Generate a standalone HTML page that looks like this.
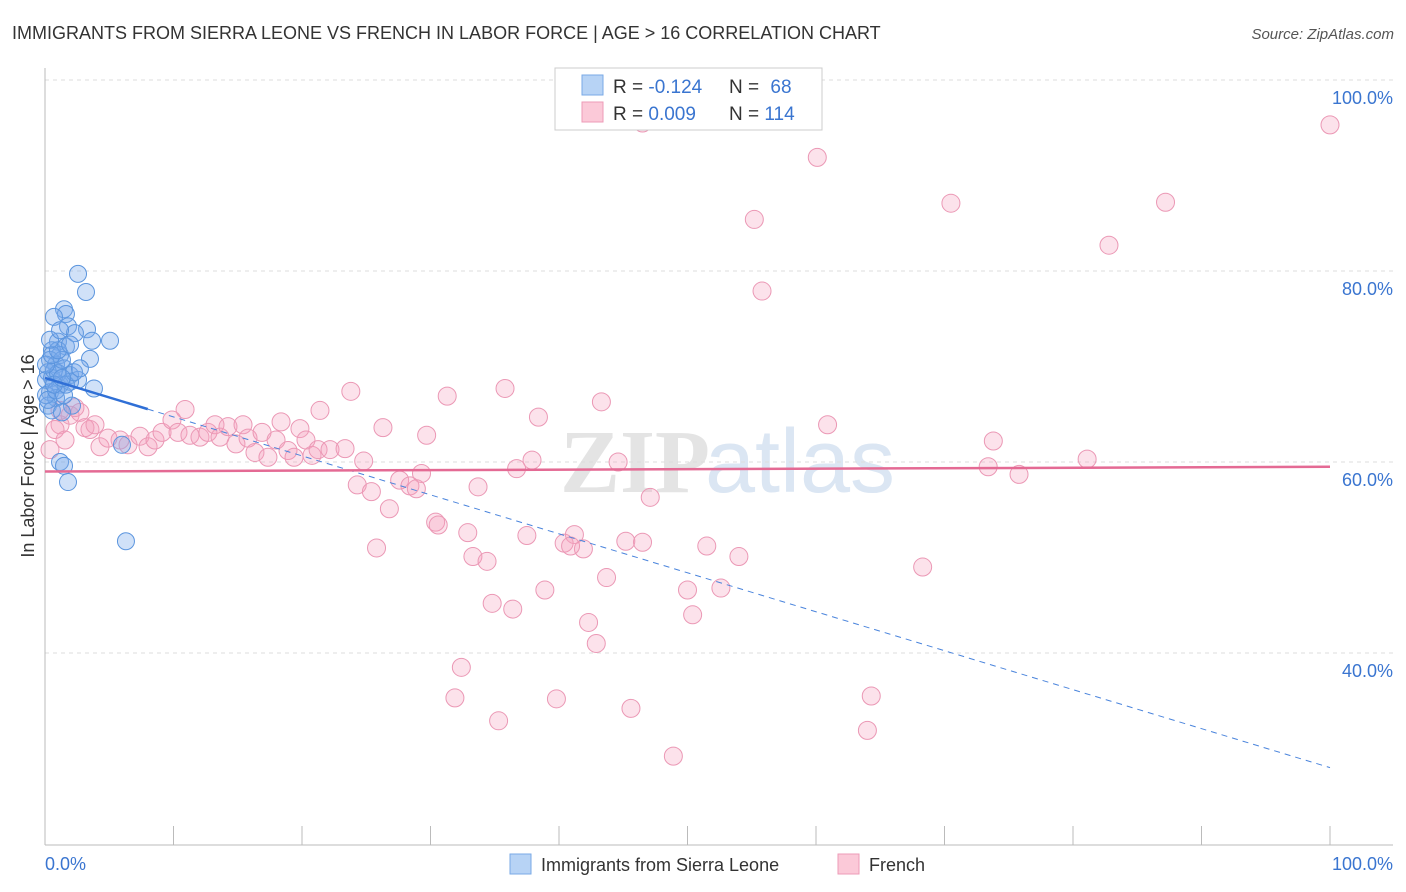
<!DOCTYPE html>
<html><head><meta charset="utf-8"><style>
body{margin:0;background:#fff;font-family:"Liberation Sans",sans-serif}
svg{display:block}
</style></head><body>
<svg id="chart" width="1406" height="892" xmlns="http://www.w3.org/2000/svg" font-family="Liberation Sans, sans-serif">
<text x="12" y="39" font-size="18" fill="#333">IMMIGRANTS FROM SIERRA LEONE VS FRENCH IN LABOR FORCE | AGE &gt; 16 CORRELATION CHART</text>
<text x="1394" y="39" font-size="15" fill="#555" font-style="italic" text-anchor="end">Source: ZipAtlas.com</text>
<g font-size="90" text-anchor="middle">
<text x="635" y="492" fill="#e4e4e4" font-family="Liberation Serif, serif" font-weight="bold">ZIP</text>
<text x="800" y="492" fill="#dbe6f3">atlas</text>
</g>
<g id="grid"></g>
<g id="axes"></g>
<g id="marks"></g>
<text transform="translate(34,456) rotate(-90)" font-size="18" fill="#333" text-anchor="middle">In Labor Force | Age &gt; 16</text>
<text x="45" y="870" font-size="18" fill="#3a75d0">0.0%</text>
<text x="1393" y="870" font-size="18" fill="#3a75d0" text-anchor="end">100.0%</text>
<g>
<rect x="555" y="68" width="267" height="62" fill="#fff" stroke="#ccc"/>
<rect x="582" y="75" width="21" height="20" fill="#b7d3f5" stroke="#7aaae6"/>
<rect x="582" y="102" width="21" height="20" fill="#fbc9d8" stroke="#ee9bb7"/>
<text x="613" y="93" font-size="19" fill="#333">R = <tspan fill="#3a75d0">-0.124</tspan></text>
<text x="729" y="93" font-size="19" fill="#333">N = <tspan fill="#3a75d0" dx="6">68</tspan></text>
<text x="613" y="120" font-size="19" fill="#333">R = <tspan fill="#3a75d0">0.009</tspan></text>
<text x="729" y="120" font-size="19" fill="#333">N = <tspan fill="#3a75d0">114</tspan></text>
</g>
<g>
<rect x="510" y="854" width="21" height="20" fill="#b7d3f5" stroke="#7aaae6"/>
<text x="541" y="871" font-size="18" fill="#333">Immigrants from Sierra Leone</text>
<rect x="838" y="854" width="21" height="20" fill="#fbc9d8" stroke="#ee9bb7"/>
<text x="869" y="871" font-size="18" fill="#333">French</text>
</g>
</svg>
<script>
const yTicks=[40,60,80,100];
const yTickLabels=["40.0%","60.0%","80.0%","100.0%"];
const xTicks=[0,10,20,30,40,50,60,70,80,90,100];
const blueX=[2.57,3.19,1.48,1.63,0.70,1.79,3.27,2.33,3.66,5.06,1.01,1.63,0.54,3.50,1.17,0.39,0.86,1.48,0.23,0.54,1.95,2.57,1.17,3.81,0.39,0.86,0.23,2.10,0.54,1.32,1.17,1.48,1.79,6.30,0.08,0.70,1.01,1.32,0.08,0.23,0.86,1.48,1.95,0.08,0.54,1.01,1.63,2.26,2.72,0.39,1.17,1.95,5.99,0.70,1.32];
const blueY=[79.7,77.8,76.0,75.5,75.2,74.2,73.9,73.5,72.7,72.7,72.6,72.1,71.7,70.8,71.2,70.7,70.2,69.8,69.4,68.8,69.1,68.6,68.1,67.7,67.3,66.7,65.9,65.9,65.4,65.2,60.0,59.6,57.9,51.7,68.6,69.6,69.3,70.7,67.0,66.5,67.5,67.0,68.4,70.2,71.2,71.7,68.1,69.4,69.8,72.8,73.8,72.3,61.8,68.1,68.8];
const pinkX=[100.0,46.5,60.1,55.2,70.5,87.2,82.8,55.8,23.8,35.8,31.3,43.3,21.4,10.9,38.4,60.9,26.3,29.7,73.8,81.1,73.4,75.8,37.9,36.7,44.6,24.8,29.3,27.6,28.4,28.9,33.7,24.3,25.4,26.8,47.1,30.4,30.6,32.9,37.5,41.2,40.4,45.2,46.5,41.9,40.9,51.5,54.0,25.8,33.3,34.4,68.3,43.7,38.9,50.0,52.6,34.8,36.4,50.4,42.3,42.9,32.4,31.9,39.8,64.3,45.6,35.3,64.0,48.9,1.17,1.95,2.72,3.50,4.28,4.90,5.84,6.46,7.39,8.02,8.56,9.11,9.88,10.35,11.28,12.06,12.68,13.23,13.62,14.24,14.86,15.41,15.80,16.34,16.89,17.35,17.98,18.37,18.91,19.38,19.84,20.31,20.78,21.25,22.18,23.35,1.17,2.33,0.39,0.78,1.56,3.11,3.89];
const pinkY=[95.3,95.5,91.9,85.4,87.1,87.2,82.7,77.9,67.4,67.7,66.9,66.3,65.4,65.5,64.7,63.9,63.6,62.8,62.2,60.3,59.5,58.7,60.2,59.3,60.0,60.1,58.8,58.1,57.5,57.2,57.4,57.6,56.9,55.1,56.3,53.7,53.4,52.6,52.3,52.4,51.5,51.7,51.6,50.9,51.2,51.2,50.1,51.0,50.1,49.6,49.0,47.9,46.6,46.6,46.8,45.2,44.6,44.0,43.2,41.0,38.5,35.3,35.2,35.5,34.2,32.9,31.9,29.2,63.9,64.9,65.2,63.4,61.6,62.5,62.3,61.8,62.7,61.6,62.3,63.1,64.4,63.1,62.8,62.6,63.1,63.9,62.6,63.7,61.9,63.9,62.5,61.0,63.1,60.5,62.3,64.2,61.2,60.5,63.5,62.3,60.7,61.3,61.3,61.4,65.4,65.7,61.3,63.4,62.3,63.6,63.9];
const blueTrend=[68.8,28.0];
const pinkTrend=[59.0,59.5];
const blueSolidEnd=8;

const NS="http://www.w3.org/2000/svg";
const X=v=>45+v*12.85;
const Y=v=>462-(v-60)*9.55;
function mk(tag,attrs,parent){const e=document.createElementNS(NS,tag);for(const k in attrs)e.setAttribute(k,attrs[k]);parent.appendChild(e);return e;}
const grid=document.getElementById('grid'),axes=document.getElementById('axes'),marks=document.getElementById('marks');
yTicks.forEach((t,i)=>{
  const l=mk('line',{x1:45,x2:1393,y1:Y(t),y2:Y(t),stroke:'#ddd','stroke-dasharray':'4,4'},grid);
  
  
  const tx=mk('text',{x:1393,y:Y(t)+24,'font-size':18,fill:'#3a75d0','text-anchor':'end'},grid);
  tx.textContent=yTickLabels[i];
  
  
});
let a=mk('line',{x1:45,x2:45,y1:68,y2:845,stroke:'#bbb'},axes);


a=mk('line',{x1:45,x2:1393,y1:845,y2:845,stroke:'#bbb'},axes);


xTicks.forEach(t=>{
  const l=mk('line',{x1:X(t),x2:X(t),y1:826,y2:845,stroke:'#bbb'},axes);
  
  
});
pinkX.forEach((v,i)=>{
  const c=mk('circle',{cx:X(v),cy:Y(pinkY[i]),r:9,fill:'rgba(244,160,188,0.3)',stroke:'#eb98b5','stroke-width':1},marks);
  
  
});
blueX.forEach((v,i)=>{
  const c=mk('circle',{cx:X(v),cy:Y(blueY[i]),r:8.5,fill:'rgba(120,170,235,0.35)',stroke:'#5b95de','stroke-width':1},marks);
  
  
});
const bv=x=>blueTrend[0]+(blueTrend[1]-blueTrend[0])*x/100;
let t=mk('line',{x1:X(0),y1:Y(bv(0)),x2:X(blueSolidEnd),y2:Y(bv(blueSolidEnd)),stroke:'#2f6fd6','stroke-width':2.5},marks);


t=mk('line',{x1:X(blueSolidEnd),y1:Y(bv(blueSolidEnd)),x2:X(100),y2:Y(bv(100)),stroke:'#4a84dc','stroke-width':1,'stroke-dasharray':'6,5'},marks);


t=mk('line',{x1:X(0),y1:Y(pinkTrend[0]),x2:X(100),y2:Y(pinkTrend[1]),stroke:'#e46a94','stroke-width':2.5},marks);


</script>
</body></html>
